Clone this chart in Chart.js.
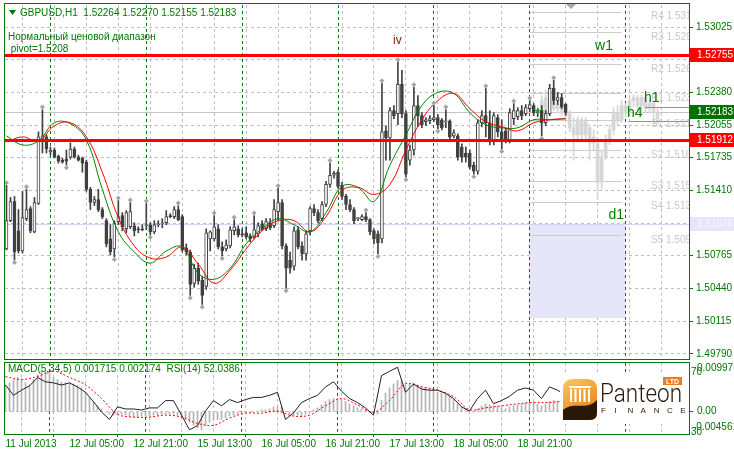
<!DOCTYPE html>
<html>
<head>
<meta charset="utf-8">
<script src="https://cdn.jsdelivr.net/npm/chart.js@4.4.1/dist/chart.umd.min.js"></script>
<style>
  html, body { margin: 0; padding: 0; background: #ffffff; }
  #wrap { position: relative; width: 734px; height: 455px; overflow: hidden; background: #ffffff; }
  canvas { position: absolute; left: 0; }
  #main { top: 0; }
  #sub { top: 361px; }
</style>
</head>
<body>
<div id="wrap">
  <canvas id="main" width="734" height="361"></canvas>
  <canvas id="sub" width="734" height="94"></canvas>
</div>
<script>
'use strict';

Chart.defaults.font.family = '"Liberation Sans", Arial, sans-serif';
Chart.defaults.font.size = 10;

const axisGreen = '#007800';
const gridGray = '#c0c0c0';
const candleDark = '#404040';

// GBPUSD H1, bar 0 = 11 Jul 2013 13:00, one bar per hour
const timeLabels = ['11 Jul 2013', '12 Jul 05:00', '12 Jul 21:00', '15 Jul 13:00', '16 Jul 05:00',
  '16 Jul 21:00', '17 Jul 13:00', '18 Jul 05:00', '18 Jul 21:00'];
const labelEvery = 16;
const gridEvery = 8;
const xMin = -0.375, xMax = 170.875;
const priceMin = 1.49770, priceMax = 1.53246;
const priceTicks = [1.53025, 1.52705, 1.52380, 1.52055, 1.51735, 1.51410, 1.51085, 1.50765, 1.50440, 1.50115, 1.49790];

const open = [
  1.5083, 1.5111, 1.5130, 1.5101, 1.5081, 1.5113, 1.5123, 1.5100, 1.5128, 1.5191,
  1.5194, 1.5179, 1.5181, 1.5175, 1.5171, 1.5172, 1.5174, 1.5182, 1.5174, 1.5173,
  1.5169, 1.5142, 1.5129, 1.5132, 1.5122, 1.5111, 1.5093, 1.5083, 1.5110, 1.5116,
  1.5103, 1.5105, 1.5106, 1.5103, 1.5103, 1.5106, 1.5107, 1.5100, 1.5107, 1.5108,
  1.5109, 1.5116, 1.5115, 1.5122, 1.5115, 1.5084, 1.5080, 1.5049, 1.5064, 1.5052,
  1.5046, 1.5093, 1.5093, 1.5103, 1.5085, 1.5083, 1.5086, 1.5101, 1.5103, 1.5098,
  1.5099, 1.5096, 1.5095, 1.5098, 1.5108, 1.5103, 1.5109, 1.5106, 1.5120, 1.5129,
  1.5086, 1.5072, 1.5066, 1.5102, 1.5086, 1.5078, 1.5101, 1.5123, 1.5119, 1.5113,
  1.5127, 1.5147, 1.5156, 1.5159, 1.5146, 1.5135, 1.5127, 1.5122, 1.5113, 1.5112,
  1.5115, 1.5112, 1.5101, 1.5098, 1.5093, 1.5200, 1.5193, 1.5220, 1.5217, 1.5246,
  1.5217, 1.5171, 1.5181, 1.5225, 1.5215, 1.5209, 1.5210, 1.5211, 1.5213, 1.5211,
  1.5209, 1.5210, 1.5195, 1.5195, 1.5184, 1.5178, 1.5178, 1.5166, 1.5160, 1.5208,
  1.5215, 1.5208, 1.5191, 1.5213, 1.5199, 1.5200, 1.5191, 1.5212, 1.5214, 1.5220,
  1.5217, 1.5222, 1.5225, 1.5218, 1.5220, 1.5208, 1.5217, 1.5242, 1.5230, 1.5233,
  1.52264];
const high = [
  1.5146, 1.5134, 1.5135, 1.5122, 1.5140, 1.5142, 1.5125, 1.5134, 1.5199, 1.5221,
  1.5196, 1.5184, 1.5183, 1.5176, 1.5173, 1.5181, 1.5188, 1.5184, 1.5176, 1.5174,
  1.5171, 1.5144, 1.5135, 1.5142, 1.5124, 1.5113, 1.5107, 1.5111, 1.5131, 1.5119,
  1.5121, 1.5129, 1.5109, 1.5105, 1.5107, 1.5128, 1.5109, 1.5111, 1.5111, 1.5113,
  1.5121, 1.5118, 1.5125, 1.5126, 1.5117, 1.5088, 1.5082, 1.5068, 1.5069, 1.5056,
  1.5103, 1.5101, 1.5116, 1.5107, 1.5090, 1.5092, 1.5105, 1.5112, 1.5106, 1.5103,
  1.5105, 1.5098, 1.5116, 1.5109, 1.5111, 1.5113, 1.5113, 1.5132, 1.5143, 1.5132,
  1.5088, 1.5080, 1.5105, 1.5105, 1.5090, 1.5101, 1.5125, 1.5127, 1.5122, 1.5130,
  1.5150, 1.5168, 1.5160, 1.5161, 1.5149, 1.5137, 1.5132, 1.5124, 1.5114, 1.5117,
  1.5119, 1.5113, 1.5103, 1.5101, 1.5247, 1.5205, 1.5223, 1.5225, 1.5268, 1.5260,
  1.5220, 1.5186, 1.5243, 1.5235, 1.5218, 1.5213, 1.5215, 1.5225, 1.5216, 1.5212,
  1.5221, 1.5211, 1.5201, 1.5197, 1.5187, 1.5184, 1.5181, 1.5169, 1.5211, 1.5220,
  1.5242, 1.5220, 1.5218, 1.5216, 1.5211, 1.5203, 1.5222, 1.5227, 1.5223, 1.5225,
  1.5226, 1.5230, 1.5227, 1.5222, 1.5225, 1.5220, 1.5246, 1.5250, 1.5238, 1.5237,
  1.52270];
const low = [
  1.5082, 1.5110, 1.5072, 1.5079, 1.5079, 1.5111, 1.5099, 1.5099, 1.5127, 1.5178,
  1.5178, 1.5176, 1.5173, 1.5168, 1.5168, 1.5166, 1.5172, 1.5173, 1.5170, 1.5159,
  1.5140, 1.5122, 1.5126, 1.5120, 1.5113, 1.5085, 1.5077, 1.5075, 1.5107, 1.5101,
  1.5099, 1.5103, 1.5096, 1.5099, 1.5101, 1.5102, 1.5097, 1.5098, 1.5105, 1.5104,
  1.5107, 1.5114, 1.5113, 1.5111, 1.5080, 1.5077, 1.5037, 1.5045, 1.5048, 1.5028,
  1.5043, 1.5081, 1.5091, 1.5083, 1.5076, 1.5081, 1.5084, 1.5097, 1.5095, 1.5095,
  1.5093, 1.5090, 1.5093, 1.5095, 1.5101, 1.5101, 1.5102, 1.5104, 1.5111, 1.5083,
  1.5044, 1.5059, 1.5062, 1.5083, 1.5072, 1.5072, 1.5097, 1.5116, 1.5109, 1.5111,
  1.5125, 1.5144, 1.5153, 1.5143, 1.5132, 1.5122, 1.5120, 1.5108, 1.5111, 1.5111,
  1.5110, 1.5097, 1.5088, 1.5078, 1.5089, 1.5171, 1.5171, 1.5212, 1.5206, 1.5213,
  1.5154, 1.5166, 1.5176, 1.5204, 1.5203, 1.5205, 1.5207, 1.5209, 1.5202, 1.5201,
  1.5203, 1.5191, 1.5193, 1.5171, 1.5169, 1.5169, 1.5162, 1.5157, 1.5157, 1.5204,
  1.5194, 1.5186, 1.5186, 1.5194, 1.5182, 1.5188, 1.5188, 1.5206, 1.5211, 1.5211,
  1.5215, 1.5219, 1.5215, 1.5214, 1.5195, 1.5205, 1.5215, 1.5226, 1.5226, 1.5222,
  1.52155];
const close = [
  1.5111, 1.5130, 1.5080, 1.5081, 1.5114, 1.5122, 1.5101, 1.5129, 1.5194, 1.5195,
  1.5182, 1.5181, 1.5174, 1.5170, 1.5169, 1.5170, 1.5182, 1.5174, 1.5171, 1.5168,
  1.5142, 1.5129, 1.5132, 1.5122, 1.5115, 1.5088, 1.5080, 1.5109, 1.5115, 1.5105,
  1.5119, 1.5120, 1.5101, 1.5102, 1.5102, 1.5107, 1.5100, 1.5107, 1.5108, 1.5109,
  1.5115, 1.5115, 1.5122, 1.5112, 1.5082, 1.5080, 1.5048, 1.5064, 1.5051, 1.5037,
  1.5099, 1.5100, 1.5105, 1.5085, 1.5081, 1.5087, 1.5102, 1.5105, 1.5097, 1.5097,
  1.5095, 1.5093, 1.5102, 1.5106, 1.5103, 1.5110, 1.5104, 1.5122, 1.5129, 1.5086,
  1.5064, 1.5064, 1.5101, 1.5085, 1.5078, 1.5098, 1.5123, 1.5119, 1.5111, 1.5127,
  1.5147, 1.5156, 1.5158, 1.5145, 1.5135, 1.5127, 1.5122, 1.5111, 1.5113, 1.5115,
  1.5112, 1.5100, 1.5093, 1.5089, 1.5199, 1.5193, 1.5220, 1.5215, 1.5246, 1.5217,
  1.5157, 1.5181, 1.5225, 1.5215, 1.5206, 1.5211, 1.5212, 1.5213, 1.5206, 1.5203,
  1.5210, 1.5194, 1.5198, 1.5174, 1.5174, 1.5174, 1.5164, 1.5160, 1.5208, 1.5215,
  1.5208, 1.5191, 1.5215, 1.5199, 1.5192, 1.5191, 1.5218, 1.5220, 1.5220, 1.5215,
  1.5223, 1.5226, 1.5218, 1.5219, 1.5208, 1.5217, 1.5242, 1.5230, 1.5233, 1.5224,
  1.52183];

// light grey projected candles, starting at bar 134
const ghostStart = 134;
const ghostOpen = [1.5218, 1.5215, 1.5225, 1.5230, 1.5222, 1.5226, 1.5218, 1.5217, 1.5203, 1.5196,
  1.5211, 1.5196, 1.5203, 1.5188, 1.5188, 1.5149, 1.5174, 1.5191, 1.5201, 1.5218,
  1.5211, 1.5225, 1.5218, 1.5230, 1.5233, 1.5225, 1.5233, 1.5222, 1.5227, 1.5218];
const ghostHigh = [1.5235, 1.5240, 1.5235, 1.5233, 1.5230, 1.5230, 1.5225, 1.5220, 1.5213, 1.5214,
  1.5213, 1.5213, 1.5206, 1.5201, 1.5191, 1.5181, 1.5196, 1.5206, 1.5223, 1.5225,
  1.5230, 1.5227, 1.5233, 1.5236, 1.5235, 1.5235, 1.5234, 1.5231, 1.5230, 1.5222];
const ghostLow = [1.5211, 1.5211, 1.5222, 1.5220, 1.5218, 1.5215, 1.5212, 1.5199, 1.5171, 1.5191,
  1.5191, 1.5189, 1.5171, 1.5181, 1.5132, 1.5142, 1.5171, 1.5186, 1.5196, 1.5206,
  1.5208, 1.5213, 1.5215, 1.5224, 1.5220, 1.5215, 1.5218, 1.5218, 1.5204, 1.5206];
const ghostClose = [1.5230, 1.5233, 1.5230, 1.5222, 1.5226, 1.5218, 1.5215, 1.5203, 1.5196, 1.5211,
  1.5196, 1.5209, 1.5188, 1.5194, 1.5149, 1.5174, 1.5191, 1.5201, 1.5218, 1.5211,
  1.5225, 1.5218, 1.5230, 1.5233, 1.5225, 1.5233, 1.5222, 1.5227, 1.5218, 1.5212];

// moving averages, one value every 4 bars
const maStep = 4;
const maGreen = [1.5195, 1.5186, 1.5190, 1.5208, 1.5207, 1.5191, 1.5142, 1.5100, 1.5080, 1.5069,
  1.5081, 1.5085, 1.5059, 1.5053, 1.5064, 1.5088, 1.5103, 1.5113, 1.5107, 1.5100,
  1.5119, 1.5145, 1.5144, 1.5130, 1.5166, 1.5196, 1.5225, 1.5238, 1.5237, 1.5218,
  1.5206, 1.5203, 1.5203, 1.5211, 1.5211, 1.5212];
const maRed = [1.5189, 1.5194, 1.5190, 1.5205, 1.5208, 1.5194, 1.5159, 1.5114, 1.5086, 1.5074,
  1.5075, 1.5085, 1.5068, 1.5049, 1.5062, 1.5083, 1.5101, 1.5111, 1.5111, 1.5100,
  1.5115, 1.5141, 1.5144, 1.5137, 1.5147, 1.5181, 1.5211, 1.5230, 1.5237, 1.5222,
  1.5209, 1.5204, 1.5200, 1.5208, 1.5211, 1.5212];

// fractal bars
const fractalUp = [0, 5, 9, 16, 28, 31, 35, 43, 52, 57, 62, 68, 81, 90, 94, 98, 102, 107, 110, 120, 127, 131, 137];
const fractalDown = [2, 15, 27, 36, 46, 49, 54, 70, 93, 100, 108, 117, 124, 134];
const crossBar = 133, crossPrice = 1.5220;

// levels
const daySeparators = [11, 35, 59, 83, 107, 131, 155];
const redLevels = [1.52755, 1.51912];
const bidPrice = 1.52183;
const rangeHigh = 1.51076, rangeLow = 1.5015, rangeFrom = 131, rangeTo = 155;
const pivotNames = ['R4', 'R3', 'R2', 'R1', 'S1', 'S2', 'S3', 'S4', 'S5'];
const pivotValues = [1.5318, 1.5298, 1.5266, 1.5237, 1.5211, 1.5181, 1.5150, 1.5130, 1.5097];
const pivotFrom = 131, pivotTo = 154;
const h1Level = 1.5224, h1From = 160;
const h4Level = 1.5210, h4From = 155.75;

// MACD(5,34,5) histogram per bar, signal every 4 bars, RSI(14) every 2 bars
const macdHist = [
  0.0055, 0.0059, 0.0066, 0.0070, 0.0066, 0.0059, 0.0055, 0.0066, 0.0076, 0.0083, 0.0083, 0.0079,
  0.0070, 0.0066, 0.0061, 0.0059, 0.0059, 0.0057, 0.0053, 0.0049, 0.0040, 0.0029, 0.0021, 0.0012,
  0.0006, -0.0001, -0.0005, -0.0007, -0.0007, -0.0005, -0.0007, -0.0009, -0.0011, -0.0011, -0.0009, -0.0009,
  -0.0009, -0.0007, -0.0007, -0.0005, -0.0005, -0.0005, -0.0005, -0.0007, -0.0011, -0.0016, -0.0022, -0.0028,
  -0.0033, -0.0037, -0.0028, -0.0022, -0.0018, -0.0016, -0.0016, -0.0013, -0.0009, -0.0007, -0.0005, -0.0003,
  -0.0003, -0.0001, -0.0001, 0.0001, 0.0004, 0.0004, 0.0006, 0.0010, 0.0012, 0.0010, 0.0001, -0.0005,
  -0.0007, -0.0007, -0.0009, -0.0005, -0.0001, 0.0004, 0.0008, 0.0014, 0.0021, 0.0025, 0.0027, 0.0027,
  0.0025, 0.0021, 0.0016, 0.0012, 0.0008, 0.0006, 0.0004, -0.0001, -0.0003, -0.0005, 0.0023, 0.0038,
  0.0049, 0.0057, 0.0064, 0.0064, 0.0055, 0.0057, 0.0059, 0.0055, 0.0051, 0.0049, 0.0046, 0.0044,
  0.0040, 0.0038, 0.0036, 0.0031, 0.0025, 0.0016, 0.0010, 0.0006, 0.0001, -0.0001, 0.0006, 0.0012,
  0.0016, 0.0014, 0.0012, 0.0010, 0.0008, 0.0006, 0.0010, 0.0012, 0.0014, 0.0016, 0.0019, 0.0019,
  0.0019, 0.0016, 0.0012, 0.0016, 0.0021, 0.0023, 0.0021, 0.0019, 0.0017];
const signalStep = 4;
const macdSignal = [0.0072, 0.0066, 0.0072, 0.0083, 0.0070, 0.0055, 0.0027, -0.0005, -0.0011, -0.0011,
  -0.0007, -0.0011, -0.0024, -0.0028, -0.0013, -0.0003, -0.0003, 0.0001, -0.0009, -0.0007,
  0.0012, 0.0027, 0.0014, -0.0001, 0.0023, 0.0057, 0.0051, 0.0044, 0.0031, 0.0004,
  0.0008, 0.0012, 0.0016, 0.0019, 0.0019, 0.0022];
const rsiStep = 2;
const rsi = [57.6, 51.8, 54.7, 57.1, 61.8, 59.4, 58.8, 57.6, 58.8, 56.5,
  53.5, 48.2, 42.4, 38.2, 45.3, 44.1, 44.1, 43.5, 44.7, 44.7,
  48.8, 48.8, 40.6, 32.4, 34.7, 43.0, 48.8, 45.9, 49.4, 47.7,
  49.4, 50.6, 50.6, 51.8, 53.5, 38.2, 41.8, 47.7, 50.0, 51.8,
  56.5, 59.4, 54.1, 50.0, 47.7, 44.7, 40.6, 62.9, 65.3, 67.6,
  53.5, 58.2, 55.3, 54.7, 54.7, 52.9, 50.0, 45.3, 43.0, 50.0,
  54.7, 47.1, 48.8, 51.2, 54.7, 55.9, 54.7, 50.0, 56.5, 54.7, 52.0];
const macdMin = -0.004561, macdMax = 0.009976;

function gridTicks() {
  const t = [];
  for (let v = 0; v <= xMax; v += gridEvery) t.push({ value: v });
  return t;
}

function hline(ctx, x0, x1, yPix, color, width) {
  const yy = width % 2 ? Math.round(yPix) + 0.5 : Math.round(yPix);
  ctx.strokeStyle = color;
  ctx.lineWidth = width;
  ctx.beginPath();
  ctx.moveTo(x0, yy);
  ctx.lineTo(x1, yy);
  ctx.stroke();
}

function daySeps(ctx, xs, top, bottom) {
  ctx.save();
  ctx.setLineDash([3, 3]);
  ctx.strokeStyle = axisGreen;
  ctx.lineWidth = 1;
  daySeparators.forEach(i => {
    const px = Math.floor(xs.getPixelForValue(i)) + 0.5;
    ctx.beginPath();
    ctx.moveTo(px, top);
    ctx.lineTo(px, bottom);
    ctx.stroke();
  });
  ctx.restore();
}

function axisBox(ctx, yPix, text, bg, fg) {
  const yy = Math.round(yPix);
  ctx.fillStyle = bg;
  ctx.fillRect(690, yy - 7, 44, 14);
  ctx.fillStyle = fg;
  ctx.font = '10px "Liberation Sans", Arial, sans-serif';
  ctx.textAlign = 'left';
  ctx.textBaseline = 'middle';
  ctx.fillText(text, 697, yy + 0.5);
}

// keep the plot edge-to-edge: no room reserved for half tick labels
function noLabelPadding(s) {
  s.paddingTop = 0;
  s.paddingBottom = 0;
  s.paddingLeft = 0;
  s.paddingRight = 0;
}

const mainOverlay = {
  id: 'mainOverlay',
  beforeDatasetsDraw(chart) {
    const { ctx, chartArea: a, scales: { x, y } } = chart;
    ctx.save();
    ctx.beginPath();
    ctx.rect(a.left, a.top, a.right - a.left, a.bottom - a.top);
    ctx.clip();
    // daily range box
    const rx0 = x.getPixelForValue(rangeFrom), rx1 = x.getPixelForValue(rangeTo);
    const ry0 = y.getPixelForValue(rangeHigh), ry1 = y.getPixelForValue(rangeLow);
    ctx.fillStyle = '#e6e6fa';
    ctx.fillRect(Math.floor(rx0), Math.round(ry0), Math.round(rx1 - rx0), Math.round(ry1 - ry0));
    hline(ctx, a.left, a.right, ry0, '#d6d6f4', 1);
    hline(ctx, a.left, a.right, y.getPixelForValue(bidPrice), '#c4c4c4', 1);
    // pivot lines
    const px0 = x.getPixelForValue(pivotFrom), px1 = x.getPixelForValue(pivotTo);
    pivotValues.forEach(v => hline(ctx, px0, px1, y.getPixelForValue(v), '#cccccc', 1));
    daySeps(ctx, x, a.top, a.bottom);
    ctx.restore();
  },
  afterDatasetsDraw(chart) {
    const { ctx, chartArea: a, scales: { x, y } } = chart;
    ctx.save();
    ctx.beginPath();
    ctx.rect(a.left, a.top, a.right - a.left, a.bottom - a.top);
    ctx.clip();
    redLevels.forEach(v => hline(ctx, a.left, a.right, y.getPixelForValue(v), '#ff0000', 3));
    hline(ctx, x.getPixelForValue(h1From), a.right, y.getPixelForValue(h1Level), '#22e022', 1);
    hline(ctx, x.getPixelForValue(h4From), a.right, y.getPixelForValue(h4Level), '#22e022', 1);
    // pivot labels
    ctx.font = '10px "Liberation Sans", Arial, sans-serif';
    ctx.fillStyle = '#c8c8c8';
    ctx.textAlign = 'left';
    ctx.textBaseline = 'middle';
    pivotValues.forEach((v, k) => {
      ctx.fillText(pivotNames[k] + ' ' + v.toFixed(4), 651, y.getPixelForValue(v) + 5);
    });
    // level names
    ctx.font = '14px "Liberation Sans", Arial, sans-serif';
    ctx.fillStyle = '#008000';
    ctx.textBaseline = 'alphabetic';
    ctx.textAlign = 'right';
    ctx.fillText('w1', 613, y.getPixelForValue(redLevels[0]) - 5);
    ctx.fillText('d1', 624, y.getPixelForValue(rangeHigh) - 5);
    ctx.textAlign = 'left';
    ctx.fillText('h1', 644, y.getPixelForValue(h1Level) - 5);
    ctx.fillText('h4', 627, y.getPixelForValue(h4Level) - 4);
    ctx.font = '12px "Liberation Sans", Arial, sans-serif';
    ctx.fillStyle = '#a01010';
    ctx.fillText('iv', 393, 44);
    ctx.restore();
  },
  afterDraw(chart) {
    const { ctx, scales: { y } } = chart;
    ctx.save();
    // header
    ctx.fillStyle = axisGreen;
    ctx.beginPath();
    ctx.moveTo(9, 10); ctx.lineTo(16, 10); ctx.lineTo(12.5, 15); ctx.closePath();
    ctx.fill();
    ctx.font = '10px "Liberation Sans", Arial, sans-serif';
    ctx.textAlign = 'left';
    ctx.textBaseline = 'middle';
    ctx.fillText('GBPUSD,H1  1.52264 1.52270 1.52155 1.52183', 20, 13);
    ctx.fillText('Нормальный ценовой диапазон', 8, 37);
    ctx.fillText(' pivot=1.5208', 8, 49);
    // chart shift marker
    ctx.fillStyle = '#a8a8a8';
    ctx.beginPath();
    ctx.moveTo(566, 4); ctx.lineTo(576, 4); ctx.lineTo(571, 9); ctx.closePath();
    ctx.fill();
    // price boxes on the axis
    axisBox(ctx, y.getPixelForValue(redLevels[0]), redLevels[0].toFixed(5), '#ff0000', '#ffffff');
    axisBox(ctx, y.getPixelForValue(bidPrice), bidPrice.toFixed(5), '#007000', '#ffffff');
    axisBox(ctx, y.getPixelForValue(redLevels[1]), redLevels[1].toFixed(5), '#ff0000', '#ffffff');
    axisBox(ctx, y.getPixelForValue(rangeHigh), rangeHigh.toFixed(5), '#e6e6fa', '#f6f6ff');
    // frame
    ctx.strokeStyle = axisGreen;
    ctx.lineWidth = 1;
    ctx.strokeRect(4.5, 3.5, 685, 356);
    ctx.restore();
  }
};

const bullOrBear = open.map((o, i) => (close[i] >= o ? '#ffffff' : candleDark));

new Chart(document.getElementById('main'), {
  type: 'bar',
  data: {
    datasets: [
      { label: 'ghost wick', data: ghostHigh.map((h, k) => ({ x: ghostStart + k, y: [ghostLow[k], h] })),
        backgroundColor: '#d6d6d6', barThickness: 1, order: 9 },
      { label: 'ghost body', data: ghostOpen.map((o, k) => ({ x: ghostStart + k, y: [o, ghostClose[k]] })),
        backgroundColor: '#d6d6d6', barThickness: 3, minBarLength: 1, order: 8 },
      { label: 'wick', data: high.map((h, i) => ({ x: i, y: [low[i], h] })),
        backgroundColor: candleDark, barThickness: 1, order: 7 },
      { label: 'body', data: open.map((o, i) => ({ x: i, y: [o, close[i]] })),
        backgroundColor: bullOrBear, borderColor: candleDark, borderWidth: 1, borderSkipped: false,
        barThickness: 3, minBarLength: 1, order: 6 },
      { type: 'line', label: 'MA green', data: maGreen.map((v, k) => ({ x: k * maStep, y: v })),
        borderColor: '#008000', borderWidth: 1, pointRadius: 0, tension: 0.4, order: 5 },
      { type: 'line', label: 'MA red', data: maRed.map((v, k) => ({ x: k * maStep, y: v })),
        borderColor: '#ff0000', borderWidth: 1, pointRadius: 0, tension: 0.4, order: 4 },
      { type: 'line', label: 'fractal up', data: fractalUp.map(i => ({ x: i, y: high[i] + 0.00025 })),
        showLine: false, pointStyle: 'rectRot', pointRadius: 2.5, backgroundColor: '#a4a4a4',
        borderColor: '#a4a4a4', borderWidth: 0, order: 3 },
      { type: 'line', label: 'fractal down', data: fractalDown.map(i => ({ x: i, y: low[i] - 0.00025 })),
        showLine: false, pointStyle: 'rectRot', pointRadius: 2.5, backgroundColor: '#a4a4a4',
        borderColor: '#a4a4a4', borderWidth: 0, order: 3 },
      { type: 'line', label: 'cross', data: [{ x: crossBar, y: crossPrice }],
        showLine: false, pointStyle: 'cross', pointRadius: 3, borderColor: '#00a000', borderWidth: 1, order: 2 }
    ]
  },
  options: {
    responsive: false,
    animation: false,
    events: [],
    layout: { padding: { left: 4, top: 4, right: 0, bottom: 2 } },
    datasets: { bar: { grouped: false } },
    plugins: { legend: { display: false }, tooltip: { enabled: false } },
    scales: {
      x: {
        type: 'linear', min: xMin, max: xMax, offset: false,
        afterBuildTicks: s => { s.ticks = gridTicks(); },
        afterFit: s => { s.height = 0; noLabelPadding(s); },
        ticks: { display: false },
        grid: { color: gridGray, drawTicks: false },
        border: { display: false, dash: [3, 3] }
      },
      y: {
        type: 'linear', position: 'right', min: priceMin, max: priceMax,
        afterBuildTicks: s => { s.ticks = priceTicks.map(v => ({ value: v })); },
        afterFit: s => { s.width = 45; noLabelPadding(s); },
        ticks: { color: axisGreen, padding: 3, autoSkip: false, callback: v => v.toFixed(5) },
        grid: { color: gridGray, tickLength: 4, tickColor: axisGreen, tickBorderDash: [] },
        border: { display: false, dash: [3, 3] }
      }
    }
  },
  plugins: [mainOverlay]
});

function drawLogo(ctx, x, y) {
  ctx.save();
  ctx.fillStyle = '#ffffff';
  ctx.fillRect(x - 3, y - 6, 124, 51);
  // icon
  ctx.beginPath();
  ctx.moveTo(x, y + 41);
  ctx.lineTo(x, y + 10);
  ctx.quadraticCurveTo(x, y, x + 10, y);
  ctx.lineTo(x + 24, y);
  ctx.quadraticCurveTo(x + 34, y, x + 34, y + 10);
  ctx.lineTo(x + 34, y + 34);
  ctx.quadraticCurveTo(x + 34, y + 41, x + 27, y + 41);
  ctx.closePath();
  ctx.save();
  ctx.clip();
  const g = ctx.createLinearGradient(x, y, x + 20, y + 34);
  g.addColorStop(0, '#fbc866');
  g.addColorStop(1, '#ea8a1a');
  ctx.fillStyle = g;
  ctx.fillRect(x, y, 34, 41);
  ctx.fillStyle = '#ffffff';
  ctx.fillRect(x + 6, y + 7, 22, 2);
  for (let k = 0; k < 5; k++) ctx.fillRect(x + 7 + k * 4.5, y + 10, 2, 13);
  ctx.fillStyle = '#2b1708';
  ctx.beginPath();
  ctx.moveTo(x, y + 41);
  ctx.lineTo(x, y + 31);
  ctx.bezierCurveTo(x + 10, y + 22, x + 24, y + 32, x + 34, y + 21);
  ctx.lineTo(x + 34, y + 41);
  ctx.closePath();
  ctx.fill();
  ctx.restore();
  // wordmark
  ctx.fillStyle = '#2b1708';
  ctx.font = '300 25px Roboto, "Liberation Sans", sans-serif';
  ctx.textAlign = 'left';
  ctx.textBaseline = 'alphabetic';
  const w = ctx.measureText('Panteon').width;
  ctx.save();
  ctx.translate(x + 37, y + 23);
  ctx.scale(82 / w, 1);
  ctx.fillText('Panteon', 0, 0);
  ctx.restore();
  ctx.font = '8px "Liberation Sans", Arial, sans-serif';
  'FINANCE'.split('').forEach((c, k) => ctx.fillText(c, x + 38 + k * 13.2, y + 34));
  ctx.fillStyle = '#f07a20';
  ctx.fillRect(x + 100, y - 2, 19, 8);
  ctx.fillStyle = '#ffffff';
  ctx.font = 'bold 7px "Liberation Sans", Arial, sans-serif';
  ctx.fillText('LTD', x + 103, y + 5);
  ctx.restore();
}

const subOverlay = {
  id: 'subOverlay',
  beforeDatasetsDraw(chart) {
    const { ctx, chartArea: a, scales: { x } } = chart;
    daySeps(ctx, x, a.top, a.bottom);
  },
  afterDraw(chart) {
    const { ctx } = chart;
    ctx.save();
    ctx.font = '10px "Liberation Sans", Arial, sans-serif';
    ctx.fillStyle = axisGreen;
    ctx.textAlign = 'left';
    ctx.textBaseline = 'middle';
    ctx.fillText('MACD(5,34,5) 0.001715 0.002174  RSI(14) 52.0386', 8, 8);
    drawLogo(ctx, 563, 18);
    ctx.fillStyle = axisGreen;
    ctx.font = '10px "Liberation Sans", Arial, sans-serif';
    ctx.textBaseline = 'middle';
    ctx.fillText('70', 691, 11);
    ctx.fillText(macdMax.toFixed(6), 697, 7);
    ctx.fillText('0.00', 697, 50);
    ctx.fillText('30', 691, 71);
    ctx.fillText(macdMin.toFixed(6), 693, 66);
    ctx.strokeStyle = axisGreen;
    ctx.lineWidth = 1;
    ctx.strokeRect(4.5, 1.5, 685, 72);
    ctx.restore();
  }
};

new Chart(document.getElementById('sub'), {
  type: 'bar',
  data: {
    datasets: [
      { label: 'MACD', data: macdHist.map((v, i) => ({ x: i, y: [0, v] })),
        backgroundColor: '#b4b4b4', barThickness: 1, order: 3 },
      { type: 'line', label: 'Signal', data: macdSignal.map((v, k) => ({ x: k * signalStep, y: v })),
        borderColor: '#ff0000', borderWidth: 1, borderDash: [2, 2], pointRadius: 0, tension: 0.35, order: 2 },
      { type: 'line', label: 'RSI', yAxisID: 'yRsi', data: rsi.map((v, k) => ({ x: k * rsiStep, y: v })),
        borderColor: '#202020', borderWidth: 1, pointRadius: 0, tension: 0, order: 1 }
    ]
  },
  options: {
    responsive: false,
    animation: false,
    events: [],
    layout: { padding: { left: 4, top: 2, right: 0, bottom: 0 } },
    datasets: { bar: { grouped: false } },
    plugins: { legend: { display: false }, tooltip: { enabled: false } },
    scales: {
      x: {
        type: 'linear', min: xMin, max: xMax, offset: false,
        afterBuildTicks: s => { s.ticks = gridTicks(); },
        afterFit: s => { s.height = 21; noLabelPadding(s); },
        ticks: {
          color: axisGreen, padding: 1, autoSkip: false, maxRotation: 0, minRotation: 0, align: 'start',
          callback: v => (v % labelEvery === 0 && v / labelEvery < timeLabels.length ? timeLabels[v / labelEvery] : '')
        },
        grid: {
          color: gridGray, tickLength: 3, tickBorderDash: [],
          tickColor: c => (c.tick && c.tick.value % labelEvery === 0 && c.tick.value / labelEvery < timeLabels.length ? axisGreen : 'rgba(0,0,0,0)')
        },
        border: { display: false, dash: [3, 3] }
      },
      y: {
        type: 'linear', position: 'right', min: macdMin, max: macdMax,
        afterBuildTicks: s => { s.ticks = [{ value: 0 }]; },
        afterFit: s => { s.width = 45; noLabelPadding(s); },
        ticks: { display: false },
        grid: { color: gridGray, tickLength: 4, tickColor: axisGreen, tickBorderDash: [] },
        border: { display: false, dash: [3, 3] }
      },
      yRsi: { type: 'linear', axis: 'y', position: 'right', display: false, min: 30, max: 70 }
    }
  },
  plugins: [subOverlay]
});
</script>
</body>
</html>
